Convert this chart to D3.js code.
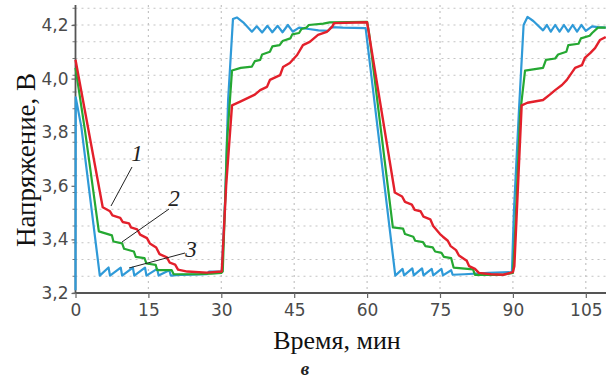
<!DOCTYPE html>
<html><head><meta charset="utf-8">
<script src="https://cdn.jsdelivr.net/npm/d3@7/dist/d3.min.js"></script>
<style>body{margin:0;background:#fff}svg{display:block}</style>
</head><body><svg id="c" width="606" height="381"></svg>
<script>
// Series 1 (red)
const time1 = [0,5.6,7.1,7.6,9.2,9.7,11,11.4,12.7,13.3,14.7,15.3,16.6,17.3,18.8,19.4,20.5,21.1,23,27,30.1,
  31.0,32.2,34,36.9,38,39.4,40,42.1,42.7,44.1,45.6,46.8,48.2,49.9,51.7,52.8,53.2,60,
  65.7,67.2,67.8,69.2,69.8,71,71.6,73,73.6,75,75.6,76.6,77.2,78.3,78.9,80.5,81,82.2,83,85.5,88,90,
  90.3,91.8,93,96.2,97.6,98.7,100.1,101.1,102.8,104.2,104.8,105.9,106.9,107.9,109.1];
const volt1 = [4.07,3.52,3.505,3.49,3.48,3.465,3.46,3.445,3.437,3.418,3.405,3.385,3.37,3.345,3.333,3.313,3.306,3.287,3.28,3.276,3.28,
  3.6,3.9,3.915,3.94,3.957,3.969,3.995,4.013,4.043,4.058,4.088,4.125,4.137,4.163,4.174,4.193,4.207,4.21,
  3.575,3.56,3.54,3.53,3.51,3.505,3.485,3.475,3.45,3.42,3.41,3.395,3.375,3.36,3.34,3.32,3.3,3.29,3.275,3.27,3.268,3.278,
  3.3,3.9,3.91,3.92,3.94,3.957,3.976,3.995,4.04,4.05,4.077,4.095,4.114,4.144,4.155];
// Series 2 (green)
const time2 = [0,2.0,4.8,7.5,7.8,9.6,10.0,12.0,12.4,14.2,14.6,16.5,16.8,19.8,20.2,25,28,30,
  30.3,31.2,32.2,34,36.3,36.9,38,38.4,40,40.5,42,42.6,44.2,44.6,46,46.5,47.5,48,51,52.3,60,
  60.4,65.3,67.4,67.8,69.5,69.9,71.5,72,73.5,74,75.3,75.8,77.3,77.8,81.8,82.2,88,90,
  90.4,91.5,92.5,96.2,96.8,98.7,99.3,101,101.4,103.5,104,105.8,106.3,107.5,109.1];
const volt2 = [4.04,3.8,3.43,3.415,3.392,3.385,3.365,3.355,3.335,3.33,3.31,3.305,3.285,3.285,3.27,3.27,3.272,3.275,
  3.28,3.77,4.03,4.04,4.045,4.065,4.07,4.09,4.1,4.12,4.125,4.14,4.15,4.165,4.17,4.185,4.19,4.2,4.205,4.21,4.212,
  4.17,3.445,3.44,3.42,3.41,3.395,3.39,3.375,3.37,3.355,3.35,3.335,3.33,3.295,3.288,3.268,3.268,3.275,
  3.4,3.87,4.03,4.04,4.07,4.075,4.09,4.1,4.125,4.13,4.15,4.16,4.17,4.19,4.19];
// Series 3 (blue)
const time3 = [0,0.05,1.2,5.0,6.8,7.1,9.3,9.6,11.8,12.1,14.3,14.6,16.8,17.1,19.3,19.6,22,27,27.5,30.1,
  30.8,31.4,32.4,33.2,34.5,36.3,37.3,38.4,39.5,40.5,41.6,42.6,43.7,44.7,46,48,50,52,52.6,55,59.7,
  65.8,67.3,67.6,69.3,69.6,71.3,71.6,73.3,73.6,75.3,75.6,77.3,77.6,80,85,89.8,
  90.2,91.3,92.2,93.0,94.2,96.2,97.0,97.8,98.7,99.6,100.5,101.4,102.3,103.2,104.1,105,106.3,107.5,109.1];
const volt3 = [3.21,3.93,3.82,3.265,3.295,3.265,3.295,3.265,3.295,3.265,3.295,3.265,3.29,3.265,3.285,3.265,3.268,3.27,3.28,3.28,
  3.55,3.92,4.222,4.228,4.21,4.175,4.195,4.172,4.197,4.173,4.197,4.173,4.2,4.175,4.19,4.185,4.18,4.178,4.192,4.19,4.188,
  3.265,3.29,3.266,3.292,3.266,3.292,3.266,3.29,3.266,3.29,3.266,3.285,3.268,3.27,3.275,3.278,
  3.5,3.9,4.2,4.23,4.215,4.18,4.2,4.175,4.2,4.175,4.2,4.175,4.2,4.175,4.2,4.178,4.195,4.192,4.19];

const xTicks = [0,15,30,45,60,75,90,105];
const yTicks = [3.2,3.4,3.6,3.8,4.0,4.2];
const yTickLabels = ["3,2","3,4","3,6","3,8","4,0","4,2"];
const yGrid = d3.range(0,18).map(i => 3.2 + i*0.0625);
const xTitle = "Время, мин";
const yTitle = "Напряжение, В";
const captionText = "в";
const curveLabels = ["1","2","3"];

const svg = d3.select("#c");
const L = 75.5, R = 606, T = 5, B = 293;
const x = d3.scaleLinear().domain([0,105]).range([L, 585.8]);
const y = d3.scaleLinear().domain([3.2,4.2]).range([B, 25]);

const g = svg.append("g");
// grid
g.selectAll(".hg").data(yGrid.filter(v => y(v) >= T && v > 3.21)).enter().append("line")
  .attr("x1", L).attr("x2", R).attr("y1", d => y(d)).attr("y2", d => y(d))
  .attr("stroke", "#c4c4c4").attr("stroke-width", 1.2).attr("stroke-dasharray", "2,4");
g.selectAll(".vg").data(xTicks.filter(d => d > 0)).enter().append("line")
  .attr("x1", d => x(d)).attr("x2", d => x(d)).attr("y1", T).attr("y2", B)
  .attr("stroke", "#c4c4c4").attr("stroke-width", 1.2).attr("stroke-dasharray", "2,4");
// minor ticks on y axis
g.selectAll(".mt").data(yGrid.filter(v => y(v) >= T)).enter().append("line")
  .attr("x1", L-3).attr("x2", L).attr("y1", d => y(d)).attr("y2", d => y(d))
  .attr("stroke", "#777").attr("stroke-width", 1);

// axes
const xAxis = d3.axisBottom(x).tickValues(xTicks).tickSize(5).tickPadding(6).tickFormat(d3.format("d"));
const yAxis = d3.axisLeft(y).tickValues(yTicks).tickSize(4).tickPadding(3).tickFormat((d,i) => yTickLabels[i]);
const ax = svg.append("g").attr("transform", `translate(0,${B})`).call(xAxis);
ax.select(".domain").attr("d", `M${L},0H${R}`);
const ay = svg.append("g").attr("transform", `translate(${L},0)`).call(yAxis);
ay.select(".domain").attr("d", `M0,${B}V${T}`);
[ax, ay].forEach(a => {
  a.select(".domain").attr("stroke", "#555").attr("stroke-width", 1.8);
  a.selectAll(".tick line").attr("stroke", "#666").attr("stroke-width", 1.2);
  a.selectAll(".tick text").attr("fill", "#4a4a4a").attr("font-family", "DejaVu Sans, sans-serif").attr("font-size", 17);
});

// series
const line = d3.line().x(d => x(d[0])).y(d => y(d[1]));
const series = [
  {t: time3, v: volt3, color: "#2f9ad8", w: 2.2},
  {t: time2, v: volt2, color: "#25a832", w: 2.2},
  {t: time1, v: volt1, color: "#e3202b", w: 2.4}
];
series.forEach(s => {
  svg.append("path").datum(s.t.map((t,i) => [t, s.v[i]]))
    .attr("d", line).attr("fill", "none").attr("stroke", s.color)
    .attr("stroke-width", s.w).attr("stroke-linejoin", "round");
});

// leader lines and labels
const leaders = [
  {lx: 137, ly: 153, x1: 132, y1: 167, x2: 111, y2: 206},
  {lx: 174, ly: 198, x1: 169, y1: 209, x2: 122, y2: 242},
  {lx: 191, ly: 249, x1: 185, y1: 253, x2: 129, y2: 268}
];
leaders.forEach((d,i) => {
  svg.append("line").attr("x1", d.x1).attr("y1", d.y1).attr("x2", d.x2).attr("y2", d.y2)
    .attr("stroke", "#222").attr("stroke-width", 1);
  svg.append("text").attr("x", d.lx).attr("y", d.ly).attr("dy", "0.35em").attr("text-anchor", "middle")
    .attr("font-family", "Liberation Serif, serif").attr("font-style", "italic").attr("font-size", 23)
    .attr("fill", "#222").text(curveLabels[i]);
});

// titles
svg.append("text").attr("x", 337).attr("y", 349).attr("text-anchor", "middle")
  .attr("font-family", "Liberation Serif, serif").attr("font-size", 26).attr("fill", "#111").text(xTitle);
svg.append("text").attr("transform", "translate(35,160) rotate(-90)").attr("text-anchor", "middle")
  .attr("font-family", "Liberation Serif, serif").attr("font-size", 27).attr("fill", "#111").text(yTitle);
svg.append("text").attr("x", 305).attr("y", 375).attr("text-anchor", "middle")
  .attr("font-family", "Liberation Serif, serif").attr("font-style", "italic").attr("font-weight", "bold")
  .attr("font-size", 19).attr("fill", "#222").text(captionText);
</script>
</body></html>
